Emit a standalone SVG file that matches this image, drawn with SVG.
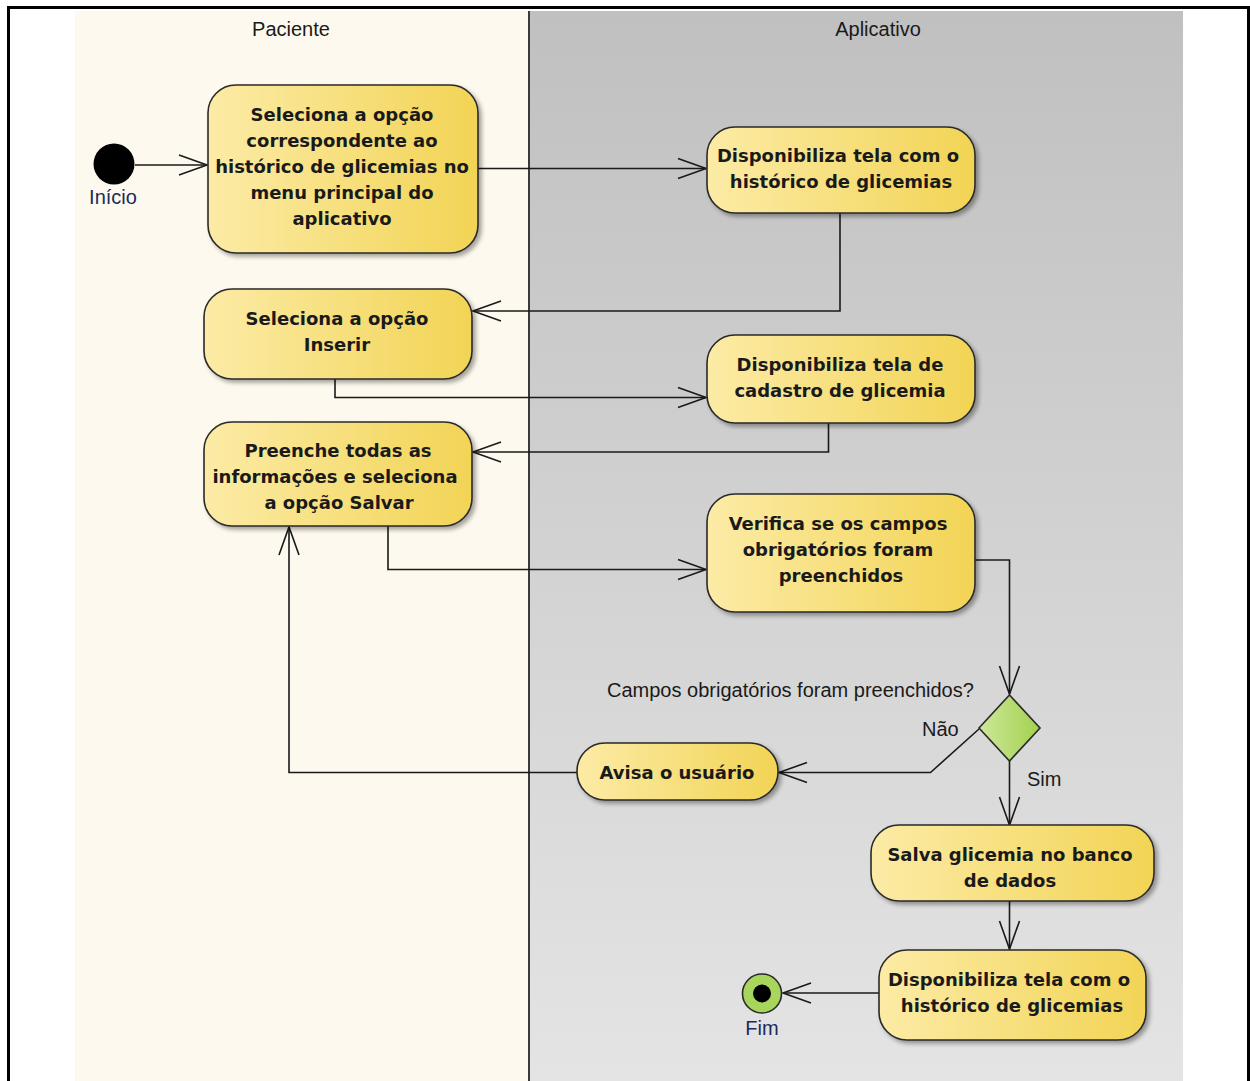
<svg xmlns="http://www.w3.org/2000/svg" width="1250" height="1081" viewBox="0 0 1250 1081">
  <defs>
    <linearGradient id="actFill" x1="0" y1="0" x2="1" y2="0">
      <stop offset="0" stop-color="#FCEBA6"/>
      <stop offset="1" stop-color="#F2D455"/>
    </linearGradient>
    <linearGradient id="laneGray" x1="0" y1="0" x2="0" y2="1">
      <stop offset="0" stop-color="#C0C0C0"/>
      <stop offset="1" stop-color="#E4E4E4"/>
    </linearGradient>
    <linearGradient id="decFill" x1="0" y1="0" x2="1" y2="0">
      <stop offset="0" stop-color="#CDE89A"/>
      <stop offset="1" stop-color="#A2D14E"/>
    </linearGradient>
    <filter id="shadow" x="-10%" y="-10%" width="130%" height="140%">
      <feDropShadow dx="3" dy="3" stdDeviation="2" flood-color="#000" flood-opacity="0.35"/>
    </filter>
    <marker id="open" markerUnits="userSpaceOnUse" markerWidth="34" markerHeight="26" viewBox="-30 -13 34 26" refX="0" refY="0" orient="auto">
      <path d="M-28,-10 L0,0 L-28,10" fill="none" stroke="#1a1a1a" stroke-width="1.6"/>
    </marker>
    <style>
      .act { fill: url(#actFill); stroke: #2a2a2a; stroke-width: 1.6; filter: url(#shadow); }
      .atext { font-family: "DejaVu Sans", Verdana, sans-serif; font-weight: bold; font-size: 18px; fill: #1a1a1a; text-anchor: middle; }
      .lbl { font-family: "Liberation Sans", Arial, sans-serif; font-size: 20px; fill: #1a1a1a; }
      .nodeLbl { font-family: "Liberation Sans", Arial, sans-serif; font-size: 20px; fill: #1c2b5a; text-anchor: middle; }
      .lane { font-family: "Liberation Sans", Arial, sans-serif; font-size: 20px; fill: #1a1a1a; text-anchor: middle; }
      .flow { fill: none; stroke: #1a1a1a; stroke-width: 1.6; marker-end: url(#open); }
    </style>
  </defs>

  <rect width="1250" height="1081" fill="#FFFFFF"/>

  <!-- swimlanes -->
  <g id="lanes">
    <rect x="75" y="11" width="454" height="1070" fill="#FEF9EE"/>
    <rect x="529" y="11" width="654" height="1070" fill="url(#laneGray)"/>
    <line x1="529" y1="11" x2="529" y2="1081" stroke="#3a3a3a" stroke-width="2"/>
    <text class="lane" x="291" y="36">Paciente</text>
    <text class="lane" x="878" y="36">Aplicativo</text>
  </g>

  <!-- outer frame -->
  <rect x="8.5" y="7.5" width="1240" height="1090" fill="none" stroke="#000" stroke-width="3"/>

  <!-- connectors -->
  <g id="connectors">
    <path class="flow" d="M135,165 H207"/>
    <path class="flow" d="M478,168.5 H706"/>
    <path class="flow" d="M840,213 V311 H473"/>
    <path class="flow" d="M335,379 V397.5 H706"/>
    <path class="flow" d="M828.5,423 V452 H473"/>
    <path class="flow" d="M388,526 V569.5 H706"/>
    <path class="flow" d="M975,560 H1009.5 V694"/>
    <path class="flow" d="M979,729 L930.5,772.5 H779"/>
    <path class="flow" d="M577,772.5 H289 V527"/>
    <path class="flow" d="M1009.5,761 V825"/>
    <path class="flow" d="M1009.5,901 V949"/>
    <path class="flow" d="M880,993 H783"/>
    <text class="lbl" x="607" y="697">Campos obrigatórios foram preenchidos?</text>
    <text class="lbl" x="922" y="736">Não</text>
    <text class="lbl" x="1027" y="786">Sim</text>
  </g>

  <!-- start -->
  <g id="inicio">
    <circle cx="114" cy="164" r="20.5" fill="#000"/>
    <text class="nodeLbl" x="113" y="204">Início</text>
  </g>

  <g id="selecionaHistorico">
    <rect class="act" x="208" y="85" width="270" height="168" rx="28"/>
    <text class="atext" x="342" y="121">Seleciona a opção</text>
    <text class="atext" x="342" y="147">correspondente ao</text>
    <text class="atext" x="342" y="173">histórico de glicemias no</text>
    <text class="atext" x="342" y="199">menu principal do</text>
    <text class="atext" x="342" y="225">aplicativo</text>
  </g>

  <g id="telaHistorico">
    <rect class="act" x="707" y="127" width="268" height="86" rx="28"/>
    <text class="atext" x="838" y="162">Disponibiliza tela com o</text>
    <text class="atext" x="841" y="188">histórico de glicemias</text>
  </g>

  <g id="selecionaInserir">
    <rect class="act" x="204" y="289" width="268" height="90" rx="28"/>
    <text class="atext" x="337" y="325">Seleciona a opção</text>
    <text class="atext" x="337" y="351">Inserir</text>
  </g>

  <g id="telaCadastro">
    <rect class="act" x="707" y="335" width="268" height="88" rx="28"/>
    <text class="atext" x="840" y="371">Disponibiliza tela de</text>
    <text class="atext" x="840" y="397">cadastro de glicemia</text>
  </g>

  <g id="preencheSalvar">
    <rect class="act" x="204" y="422" width="268" height="104" rx="28"/>
    <text class="atext" x="338" y="457">Preenche todas as</text>
    <text class="atext" x="335" y="483">informações e seleciona</text>
    <text class="atext" x="339" y="509">a opção Salvar</text>
  </g>

  <g id="verificaCampos">
    <rect class="act" x="707" y="494" width="268" height="118" rx="28"/>
    <text class="atext" x="838" y="530">Verifica se os campos</text>
    <text class="atext" x="838" y="556">obrigatórios foram</text>
    <text class="atext" x="841" y="582">preenchidos</text>
  </g>

  <g id="decisao">
    <path d="M1009.5,695 L1040,728 L1009.5,761 L979,728 Z" fill="url(#decFill)" stroke="#2a2a2a" stroke-width="1.6"/>
  </g>

  <g id="avisaUsuario">
    <rect class="act" x="577" y="743" width="201" height="57" rx="28"/>
    <text class="atext" x="677" y="779">Avisa o usuário</text>
  </g>

  <g id="salvaGlicemia">
    <rect class="act" x="871" y="825" width="283" height="76" rx="28"/>
    <text class="atext" x="1010" y="861">Salva glicemia no banco</text>
    <text class="atext" x="1010" y="887">de dados</text>
  </g>

  <g id="telaHistoricoFinal">
    <rect class="act" x="879" y="950" width="267" height="90" rx="28"/>
    <text class="atext" x="1009" y="986">Disponibiliza tela com o</text>
    <text class="atext" x="1012" y="1012">histórico de glicemias</text>
  </g>

  <!-- end -->
  <g id="fim">
    <circle cx="762" cy="993.5" r="19.5" fill="#A8D65C" stroke="#2a2a2a" stroke-width="1.6"/>
    <circle cx="762" cy="993.5" r="9" fill="#000"/>
    <text class="nodeLbl" x="762" y="1035">Fim</text>
  </g>
</svg>
